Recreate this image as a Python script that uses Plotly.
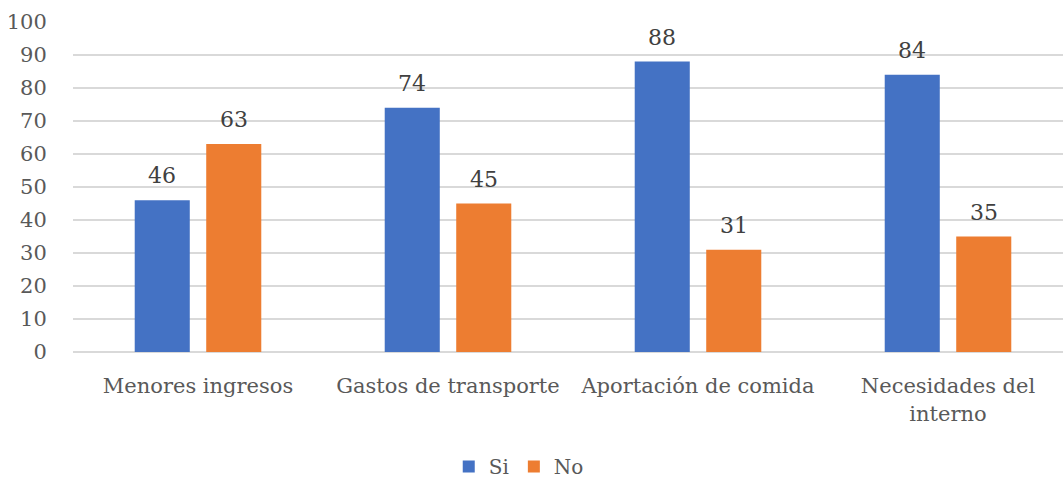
import plotly.graph_objects as go

categories = ["Menores ingresos", "Gastos de transporte", "Aportación de comida", "Necesidades del<br>interno"]
si_values = [46, 74, 88, 84]
no_values = [63, 45, 31, 35]
y_ticks = [0, 10, 20, 30, 40, 50, 60, 70, 80, 90, 100]

FONT = "DejaVu Serif"
BLUE = "#4472C4"
ORANGE = "#ED7D31"

fig = go.Figure()
fig.add_trace(go.Bar(name="Si", x=categories, y=si_values, marker=dict(color=BLUE, line=dict(width=0))))
fig.add_trace(go.Bar(name="No", x=categories, y=no_values, marker=dict(color=ORANGE, line=dict(width=0))))

# data labels
slot = 250 * (1 - 0.428) / 2
for vals, sh in ((si_values, -slot / 2), (no_values, slot / 2)):
    for c, v in zip(categories, vals):
        fig.add_annotation(x=c, y=v, text=str(v), showarrow=False, xshift=sh, yshift=10,
                           yanchor="bottom", font=dict(family=FONT, size=22, color="#404040"))

fig.update_layout(
    width=1063, height=481,
    margin=dict(l=73, r=0, t=22, b=129),
    paper_bgcolor="white", plot_bgcolor="white",
    barmode="group", bargap=0.428, bargroupgap=0.23,
    font=dict(family=FONT, size=21, color="#595959"),
    showlegend=True,
    legend=dict(orientation="h", xref="container", yref="container", x=0.488, y=0.03,
                xanchor="center", yanchor="middle", font=dict(family=FONT, size=20, color="#595959"),
                itemwidth=30, traceorder="normal"),
)
fig.update_xaxes(range=[-0.5, 3.46], showgrid=False, showline=False, zeroline=False,
                 tickangle=0, automargin=False,
                 ticks="outside", ticklen=15, tickcolor="rgba(0,0,0,0)",
                 tickfont=dict(family=FONT, size=21, color="#595959"))
fig.update_yaxes(range=[0, 100], tickvals=y_ticks, showgrid=True, gridcolor="#d9d9d9", gridwidth=1.5,
                 zeroline=True, zerolinecolor="#d9d9d9", zerolinewidth=1.5, showline=False,
                 ticks="outside", ticklen=21, tickcolor="rgba(0,0,0,0)",
                 tickfont=dict(family=FONT, size=21, color="#595959"))

fig.write_html("out.html", config={"displayModeBar": False},
               post_script="document.body.style.margin='0';")
